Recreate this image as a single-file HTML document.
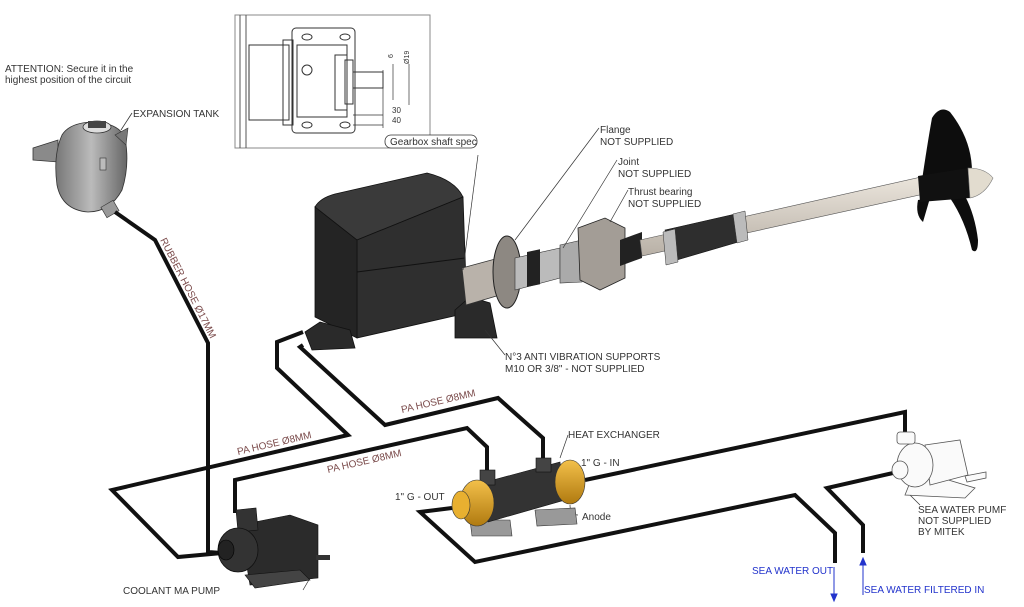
<!DOCTYPE html>
<html><head><meta charset="utf-8"><style>
html,body{margin:0;padding:0;background:#fff;}
svg{display:block;}
text{font-family:"Liberation Sans",sans-serif;}
</style></head><body>
<svg width="1024" height="607" viewBox="0 0 1024 607" xmlns="http://www.w3.org/2000/svg">
<defs>
<linearGradient id="gt" x1="0" x2="1"><stop offset="0" stop-color="#777"/><stop offset="0.5" stop-color="#bbb"/><stop offset="1" stop-color="#666"/></linearGradient>
<linearGradient id="sh" x1="0" y1="0" x2="0" y2="1"><stop offset="0" stop-color="#ece6dd"/><stop offset="1" stop-color="#b8b0a6"/></linearGradient>
<linearGradient id="or" x1="0" y1="0" x2="0" y2="1"><stop offset="0" stop-color="#f3c04a"/><stop offset="1" stop-color="#b07a10"/></linearGradient>
</defs>

<!-- Inset gearbox spec -->
<g stroke="#333" stroke-width="1" fill="none">
<rect x="235" y="15" width="195" height="133" stroke="#888"/>
<line x1="240" y1="15" x2="240" y2="148" stroke="#555"/>
<line x1="246" y1="15" x2="246" y2="148" stroke="#555"/>
<rect x="249" y="45" width="40" height="75"/>
<rect x="283" y="40" width="10" height="85"/>
<rect x="292" y="28" width="63" height="105" rx="4"/>
<rect x="297" y="45" width="50" height="72"/>
<rect x="335" y="55" width="12" height="55"/>
<rect x="345" y="60" width="8" height="44"/>
<rect x="353" y="72" width="30" height="16"/>
<circle cx="307" cy="70" r="5"/>
<ellipse cx="307" cy="37" rx="5" ry="3"/><ellipse cx="345" cy="37" rx="5" ry="3"/>
<ellipse cx="307" cy="125" rx="5" ry="3"/><ellipse cx="345" cy="125" rx="5" ry="3"/>
<line x1="353" y1="115" x2="383" y2="115" stroke-width="0.7"/>
<line x1="353" y1="125" x2="383" y2="125" stroke-width="0.7"/>
<line x1="383" y1="70" x2="383" y2="128" stroke-width="0.7"/>
<line x1="393" y1="64" x2="393" y2="100" stroke-width="0.7"/>
<line x1="409" y1="64" x2="409" y2="105" stroke-width="0.7"/>
</g>
<text x="393" y="58" font-size="7" fill="#333" transform="rotate(-90 393 58)">6</text>
<text x="409" y="64" font-size="7" fill="#333" transform="rotate(-90 409 64)">Ø19</text>
<text x="392" y="113" font-size="8" fill="#333">30</text>
<text x="392" y="123" font-size="8" fill="#333">40</text>
<rect x="385" y="135" width="92" height="13" rx="6" fill="#fff" stroke="#333" stroke-width="0.8"/>
<text x="390" y="145" font-size="10" fill="#333">Gearbox shaft spec</text>

<!-- Top-left notes -->
<text x="5" y="72" font-size="10" fill="#333">ATTENTION: Secure it in the</text>
<text x="5" y="83" font-size="10" fill="#333">highest position of the circuit</text>
<text x="133" y="117" font-size="10" fill="#333">EXPANSION TANK</text>
<line x1="132" y1="113" x2="121" y2="130" stroke="#333" stroke-width="0.8"/>

<!-- Expansion tank -->
<path d="M33 148 L58 140 L58 162 L33 160 Z" fill="#8a8a8a" stroke="#333" stroke-width="0.8"/>
<path d="M62 135 Q70 122 95 122 Q120 124 125 138 Q130 165 122 190 Q110 212 88 212 Q62 210 57 185 Q53 155 62 135 Z" fill="url(#gt)" stroke="#333" stroke-width="0.8"/>
<ellipse cx="97" cy="127" rx="14" ry="6" fill="#ddd" stroke="#333" stroke-width="0.8"/>
<rect x="88" y="121" width="18" height="7" fill="#444"/>
<path d="M115 135 L128 128 L126 145 Z" fill="#777" stroke="#333" stroke-width="0.6"/>
<rect x="100" y="158" width="6" height="12" fill="#bbb" stroke="#333" stroke-width="0.6"/>
<rect x="103" y="203" width="14" height="12" fill="#999" stroke="#333" stroke-width="0.6" transform="rotate(-30 110 209)"/>

<!-- Hoses -->
<g fill="none" stroke="#111" stroke-width="4" stroke-linejoin="miter">
<polyline points="115,212 155,240 208,343 208,552 222,553"/>
<polyline points="303,332 277,342 277,368 348,435 112,490 178,557 222,553"/>
<polyline points="303,345 300,347 385,425 498,398 543,438 543,462"/>
<polyline points="235,513 235,480 467,428 487,447 487,470"/>
<polyline points="452,508 420,512 475,562 795,495 835,533 835,563"/>
<polyline points="585,480 905,412 905,440"/>
<polyline points="893,473 827,488 863,525 863,553"/>
</g>

<!-- Hose labels -->
<text x="160" y="240" font-size="10" fill="#7a4a4a" transform="rotate(63 160 240)">RUBBER HOSE Ø17MM</text>
<text x="238" y="455" font-size="10" fill="#7a4a4a" transform="rotate(-13 238 455)">PA HOSE Ø8MM</text>
<text x="402" y="413" font-size="10" fill="#7a4a4a" transform="rotate(-13 402 413)">PA HOSE Ø8MM</text>
<text x="328" y="473" font-size="10" fill="#7a4a4a" transform="rotate(-13 328 473)">PA HOSE Ø8MM</text>

<!-- Motor -->
<path d="M315 207 Q320 198 335 194 L427 173 Q455 180 463 197 L357 240 Q330 230 315 207 Z" fill="#3a3a3a" stroke="#111" stroke-width="0.8"/>
<path d="M357 240 L463 197 L467 313 L357 338 Z" fill="#2f2f2f" stroke="#111" stroke-width="0.8"/>
<path d="M315 207 L357 240 L357 338 L315 317 Z" fill="#242424" stroke="#111" stroke-width="0.8"/>
<line x1="357" y1="272" x2="465" y2="258" stroke="#111" stroke-width="1"/>
<path d="M305 332 L320 322 L350 330 L355 348 L312 350 Z" fill="#2a2a2a" stroke="#111" stroke-width="0.8"/>
<path d="M455 310 L470 297 L490 303 L497 338 L455 338 Z" fill="#2a2a2a" stroke="#111" stroke-width="0.8"/>

<!-- Shaft assembly -->
<path d="M462 268 L510 255 L510 292 L466 305 Z" fill="#b9b2aa" stroke="#333" stroke-width="0.8"/>
<ellipse cx="507" cy="272" rx="14" ry="36" fill="#8d8882" stroke="#222" stroke-width="1"/>
<path d="M515 258 L560 248 L560 278 L515 290 Z" fill="#bbb" stroke="#333" stroke-width="0.6"/>
<rect x="527" y="252" width="13" height="35" fill="#222" transform="skewY(-12) translate(0,112)"/>
<path d="M560 245 L582 240 L582 282 L560 283 Z" fill="#aaa" stroke="#333" stroke-width="0.6"/>
<path d="M578 228 L605 218 L625 228 L625 278 L600 290 L580 280 Z" fill="#a39d96" stroke="#222" stroke-width="0.8"/>
<path d="M620 240 L642 232 L642 258 L620 266 Z" fill="#222"/>
<path d="M640 240 L930 175 L933 192 L642 256 Z" fill="url(#sh)" stroke="#555" stroke-width="0.6"/>
<path d="M665 230 L740 213 L745 240 L670 262 Z" fill="#2e2e2e" stroke="#111" stroke-width="0.6"/>
<path d="M663 232 L675 229 L678 262 L666 265 Z" fill="#bbb" stroke="#333" stroke-width="0.5"/>
<path d="M733 214 L745 211 L748 240 L737 243 Z" fill="#bbb" stroke="#333" stroke-width="0.5"/>

<!-- Propeller -->
<path d="M922 180 Q928 140 932 118 Q940 105 950 112 Q972 140 972 172 Z" fill="#0d0d0d"/>
<path d="M950 198 Q965 220 972 250 Q978 255 978 240 Q975 215 965 196 Z" fill="#0d0d0d"/>
<path d="M918 200 Q915 215 923 222 L930 198 Z" fill="#0d0d0d"/>
<path d="M918 176 L968 168 L970 198 L920 202 Z" fill="#111"/>
<path d="M968 168 Q985 168 993 178 Q985 195 970 198 Z" fill="#e2dccf" stroke="#777" stroke-width="0.6"/>

<!-- Callouts -->
<g stroke="#333" stroke-width="0.7" fill="none">
<line x1="599" y1="128" x2="515" y2="240"/>
<line x1="617" y1="160" x2="563" y2="248"/>
<line x1="628" y1="190" x2="610" y2="222"/>
<line x1="478" y1="155" x2="463" y2="270"/>
<line x1="505" y1="355" x2="485" y2="330"/>
<line x1="568" y1="435" x2="560" y2="458"/>
<path d="M578 515 Q570 515 570 505"/>
<line x1="303" y1="590" x2="310" y2="578"/>
<line x1="920" y1="505" x2="910" y2="495"/>
</g>
<text x="600" y="133" font-size="10" fill="#333">Flange</text>
<text x="600" y="145" font-size="10" fill="#333">NOT SUPPLIED</text>
<text x="618" y="165" font-size="10" fill="#333">Joint</text>
<text x="618" y="177" font-size="10" fill="#333">NOT SUPPLIED</text>
<text x="628" y="195" font-size="10" fill="#333">Thrust bearing</text>
<text x="628" y="207" font-size="10" fill="#333">NOT SUPPLIED</text>
<text x="505" y="360" font-size="10" fill="#333">N°3 ANTI VIBRATION SUPPORTS</text>
<text x="505" y="372" font-size="10" fill="#333">M10 OR 3/8" - NOT SUPPLIED</text>
<text x="568" y="438" font-size="10" fill="#333">HEAT EXCHANGER</text>
<text x="581" y="466" font-size="10" fill="#333">1" G - IN</text>
<text x="395" y="500" font-size="10" fill="#333">1" G - OUT</text>
<text x="582" y="520" font-size="10" fill="#333">Anode</text>
<text x="123" y="594" font-size="10" fill="#333">COOLANT MA PUMP</text>
<text x="918" y="513" font-size="10" fill="#333">SEA WATER PUMF</text>
<text x="918" y="524" font-size="10" fill="#333">NOT SUPPLIED</text>
<text x="918" y="535" font-size="10" fill="#333">BY MITEK</text>

<!-- Sea water labels/arrows -->
<text x="752" y="574" font-size="10" fill="#2233cc">SEA WATER OUT</text>
<text x="864" y="593" font-size="10" fill="#2233cc">SEA WATER FILTERED IN</text>
<g stroke="#2233cc" stroke-width="1" fill="#2233cc">
<line x1="834" y1="567" x2="834" y2="597"/><path d="M831 594 L837 594 L834 601 Z"/>
<line x1="863" y1="595" x2="863" y2="562"/><path d="M860 565 L866 565 L863 558 Z"/>
</g>

<!-- Heat exchanger -->
<path d="M470 520 L510 520 L512 536 L472 536 Z" fill="#999" stroke="#333" stroke-width="0.6"/>
<path d="M535 510 L575 508 L577 524 L537 526 Z" fill="#999" stroke="#333" stroke-width="0.6"/>
<path d="M482 483 L560 462 L565 500 L488 522 Z" fill="#333" stroke="#111" stroke-width="0.6"/>
<rect x="480" y="470" width="15" height="15" fill="#444" stroke="#111" stroke-width="0.6"/>
<rect x="536" y="458" width="15" height="14" fill="#444" stroke="#111" stroke-width="0.6"/>
<ellipse cx="477" cy="503" rx="17" ry="23" fill="url(#or)" stroke="#333" stroke-width="0.6"/>
<ellipse cx="461" cy="505" rx="9" ry="14" fill="#e8b030" stroke="#333" stroke-width="0.6"/>
<ellipse cx="570" cy="482" rx="15" ry="22" fill="url(#or)" stroke="#333" stroke-width="0.6"/>

<!-- Coolant pump -->
<path d="M240 525 L290 515 L318 525 L318 578 L250 585 Z" fill="#2b2b2b" stroke="#111" stroke-width="0.6"/>
<path d="M236 510 L256 508 L258 530 L238 532 Z" fill="#333" stroke="#111" stroke-width="0.6"/>
<ellipse cx="238" cy="550" rx="20" ry="22" fill="#333" stroke="#111" stroke-width="0.8"/>
<ellipse cx="226" cy="550" rx="8" ry="10" fill="#222" stroke="#000" stroke-width="0.6"/>
<path d="M245 575 L300 570 L310 580 L255 588 Z" fill="#444" stroke="#111" stroke-width="0.6"/>
<path d="M316 555 L330 555 L330 560 L316 560 Z" fill="#333"/>

<!-- Sea water pump (light outline) -->
<g fill="#fafafa" stroke="#555" stroke-width="0.8">
<path d="M915 470 L975 488 L965 498 L905 495 Z"/>
<path d="M925 445 L960 440 L968 475 L930 485 Z"/>
<ellipse cx="915" cy="465" rx="18" ry="22"/>
<ellipse cx="900" cy="470" rx="8" ry="9"/>
<rect x="897" y="432" width="18" height="12" rx="3"/>
<path d="M965 476 L986 472 L986 478 L967 482 Z"/>
</g>
</svg>
</body></html>
